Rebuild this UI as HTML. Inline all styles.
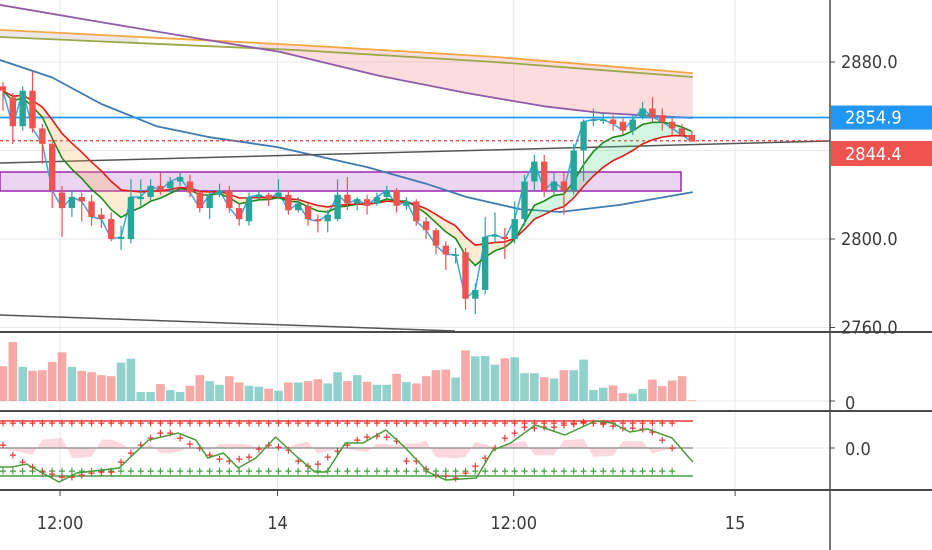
<!DOCTYPE html>
<html><head><meta charset="utf-8"><style>
html,body{margin:0;padding:0;background:#fff;}
svg{display:block;font-family:"DejaVu Sans Condensed","Liberation Sans",sans-serif;}
</style></head><body>
<svg id="chart" width="932" height="550" viewBox="0 0 932 550" xmlns="http://www.w3.org/2000/svg"></svg>
<script>
const opens=[2869,2864,2851,2867,2850,2843,2821,2814,2819,2817,2811,2809,2800,2800,2818,2819,2824,2823,2826,2826,2821,2814,2820,2822,2814,2808,2819,2820,2819,2820,2813,2815,2809,2808,2809,2820,2816,2818,2816,2819,2822,2815,2817,2808,2804,2797,2793,2794,2773,2777,2801,2801,2800,2809,2826,2835,2822,2826,2822,2840,2854,2854,2854,2853,2849,2855,2859,2856,2853,2850,2847];
const closes=[2867,2851,2867,2850,2843,2822,2814,2819,2817,2810,2809,2800,2801,2819,2819,2824,2822,2826,2828,2821,2814,2820,2822,2814,2809,2819,2820,2818,2821,2813,2816,2809,2808,2811,2820,2816,2818,2815,2819,2822,2815,2817,2808,2804,2797,2793,2793,2773,2777,2801,2802,2800,2809,2826,2835,2822,2826,2822,2840,2853,2854,2854,2852,2849,2854,2859,2855,2853,2850,2847,2844];
const highs=[2871,2866,2869,2876,2852,2845,2824,2822,2821,2820,2814,2812,2806,2827,2827,2827,2830,2828,2830,2829,2822,2822,2825,2824,2816,2821,2822,2821,2827,2822,2819,2816,2811,2813,2827,2828,2819,2820,2821,2824,2823,2819,2818,2810,2805,2799,2796,2796,2780,2810,2812,2805,2817,2829,2838,2838,2830,2830,2843,2854,2859,2857,2856,2855,2856,2862,2864,2859,2855,2852,2849];
const lows=[2858,2843,2849,2848,2834,2814,2801,2810,2808,2806,2805,2799,2795,2798,2815,2817,2820,2821,2824,2819,2812,2809,2819,2812,2806,2806,2818,2815,2818,2811,2812,2806,2803,2803,2808,2813,2813,2811,2815,2818,2812,2813,2806,2800,2793,2786,2789,2768,2766,2775,2798,2791,2798,2806,2822,2819,2820,2811,2820,2826,2851,2852,2849,2847,2847,2854,2853,2849,2847,2846,2844];
const volumes=[105,178,103,91,93,118,147,103,91,87,78,75,116,128,27,27,51,33,27,46,78,60,49,75,56,46,43,37,31,56,56,60,66,53,87,60,78,58,49,49,82,57,53,75,93,95,71,153,135,136,110,129,132,84,84,72,68,93,93,125,33,40,47,24,22,36,65,45,62,75,2];
const oscIdx=[-0.3,0.9,2.4,4.0,5.7,7.5,11.8,14.8,17.8,19.6,20.8,22.4,23.9,25.7,27.7,29.9,31.7,32.9,34.8,36.6,38.9,40.8,43.2,45.0,48.1,49.8,51.6,54.1,57.1,60.2,61.9,63.7,65.5,68.0,70.1];
const oscVals=[-0.76,-0.76,-0.64,-1.0,-1.36,-1.0,-0.8,0.32,0.6,0.32,-0.4,-0.2,-0.8,-0.4,0.44,-0.36,-0.96,-0.96,0.2,0.2,0.72,0.04,-0.96,-1.28,-1.2,-0.08,0.2,0.92,0.52,1.08,1.0,0.64,0.76,0.4,-0.56];
const signalVals=[0.12,-0.28,-0.56,-0.76,-0.96,-1.04,-1.16,-1.16,-1.08,-1.0,-0.96,-0.96,-0.56,-0.2,0.12,0.4,0.6,0.6,0.4,0.16,0.0,-0.28,-0.44,-0.52,-0.44,-0.36,-0.04,0.12,0.04,-0.08,-0.52,-0.72,-0.64,-0.36,-0.12,0.12,0.32,0.44,0.48,0.44,0.28,-0.52,-0.52,-0.84,-1.08,-1.12,-1.2,-1.0,-0.72,-0.4,0.0,0.4,0.6,0.84,0.8,0.84,0.84,0.92,0.96,1.04,1.0,0.96,0.88,0.8,0.8,0.76,0.64,0.32,0.0];
const purpleIdx=[-0.3,10,20,28.2,38,47.1,55,60.7,70.1];
const purpleVals=[2905.8,2898,2890.5,2884.5,2874,2866,2860,2857,2854.7];
const orangeIdx=[-0.3,30,50,70.1];
const orangeVals=[2894.5,2887.7,2882.3,2875];
const oliveIdx=[-0.3,30,50,70.1];
const oliveVals=[2891.3,2885.4,2880,2873.2];
const slowIdx=[-0.3,5,10,15.6,21,27.8,37,43,47.1,52.5,56.6,62.7,70.1];
const slowVals=[2880.9,2873,2861,2851,2846,2841.6,2832.5,2825,2819,2813.5,2812.2,2815.4,2821.2];
const priceTicks=[2880,2840,2800,2760];
const priceTickLabels=["2880.0","","2800.0","2760.0"];
const timeIdx=[5.8,27.9,51.9,74.4];
const timeLabels=["12:00","14","12:00","15"];
const lastPrice=2844.4, levelPrice=2854.9;

const NS="http://www.w3.org/2000/svg";
const svg=document.getElementById('chart');
const xI=i=>3+i*9.84;
const yP=p=>62+(2880-p)*2.2125;
const yV=v=>401-v*0.331;
const yO=v=>448-v*25;
function mk(tag,attrs,parent){const e=document.createElementNS(NS,tag);for(const k in attrs)e.setAttribute(k,attrs[k]);(parent||svg).appendChild(e);return e;}
function interp(xs,vs,x){if(x<=xs[0])return vs[0];for(let k=1;k<xs.length;k++){if(x<=xs[k]){const t=(x-xs[k-1])/(xs[k]-xs[k-1]);return vs[k-1]+t*(vs[k]-vs[k-1]);}}return vs[vs.length-1];}
function ema(arr,n){const a=2/(n+1);const out=[];let e=arr[0];arr.forEach((v,i)=>{e=i?a*v+(1-a)*e:v;out.push(e);});return out;}

const defs=mk('defs',{});
const cp=mk('clipPath',{id:'pc'},defs);mk('rect',{x:0,y:0,width:830,height:331},cp);
const cv=mk('clipPath',{id:'vc'},defs);mk('rect',{x:0,y:333,width:830,height:78},cv);
const co=mk('clipPath',{id:'oc'},defs);mk('rect',{x:0,y:412,width:830,height:77},co);

const grid=mk('g',{});

priceTicks.forEach(p=>mk('line',{x1:0,x2:830,y1:yP(p),y2:yP(p),stroke:'#e6e9ee','stroke-width':1},grid));
timeIdx.forEach(i=>mk('line',{x1:xI(i),x2:xI(i),y1:0,y2:490,stroke:'#e6e9ee','stroke-width':1},grid));
mk('line',{x1:0,x2:830,y1:401,y2:401,stroke:'#e6e9ee'},grid);
mk('line',{x1:0,x2:830,y1:448,y2:448,stroke:'#e6e9ee'},grid);

const pg=mk('g',{'clip-path':'url(#pc)'});


function linePath(xs,vs,yf){return xs.map((x,k)=>(k?'L':'M')+xI(x).toFixed(1)+','+yf(vs[k]).toFixed(1)).join(' ');}

{const xs=[];for(let x=26;x<=70.1;x+=0.5)xs.push(x);xs.push(70.1);
let d='M'+xs.map(x=>xI(x).toFixed(1)+','+yP(interp(orangeIdx,orangeVals,x)).toFixed(1)).join(' L');
d+=' L'+xs.slice().reverse().map(x=>xI(x).toFixed(1)+','+yP(interp(purpleIdx,purpleVals,x)).toFixed(1)).join(' L')+'Z';
const f=mk('path',{d:d,fill:'rgba(244,143,143,0.3)'},pg);

const xs2=[];for(let x=-0.3;x<=14;x+=0.5)xs2.push(x);
let d2='M'+xs2.map(x=>xI(x).toFixed(1)+','+yP(interp(orangeIdx,orangeVals,x)).toFixed(1)).join(' L');
d2+=' L'+xs2.slice().reverse().map(x=>xI(x).toFixed(1)+','+yP(interp(oliveIdx,oliveVals,x)).toFixed(1)).join(' L')+'Z';
const f2=mk('path',{d:d2,fill:'rgba(180,160,160,0.25)'},pg);
}

const zone=mk('rect',{x:0,y:172,width:681,height:19,fill:'rgba(186,104,200,0.28)',stroke:'#9c27b0','stroke-width':1.5},pg);


[[orangeIdx,orangeVals,'#f5a742','orange-ma'],[oliveIdx,oliveVals,'#9aa84a','olive-ma'],[purpleIdx,purpleVals,'#8e5ba8','purple-ma'],[slowIdx,slowVals,'#3f7bb0','slow-ma']].forEach(s=>{
 const e=mk('path',{d:linePath(s[0],s[1],yP),fill:'none',stroke:s[2],'stroke-width':1.8,'stroke-linejoin':'round'},pg);
 });

const t1=mk('line',{x1:0,y1:163,x2:830,y2:141,stroke:'#555','stroke-width':1.5},pg);

const t2=mk('line',{x1:0,y1:315,x2:455,y2:331,stroke:'#555','stroke-width':1.5},pg);


const lv=mk('line',{x1:0,x2:830,y1:yP(levelPrice),y2:yP(levelPrice),stroke:'#2196f3','stroke-width':1.8},pg);

const lp=mk('line',{x1:0,x2:830,y1:yP(lastPrice),y2:yP(lastPrice),stroke:'#e53935','stroke-width':1.2,'stroke-dasharray':'3,3'},pg);


const fast=ema(closes,6), slow=ema(closes,12);
for(let i=1;i<closes.length;i++){
 const up=fast[i]>=slow[i];
 const d=`M${xI(i-1)},${yP(fast[i-1])} L${xI(i)},${yP(fast[i])} L${xI(i)},${yP(slow[i])} L${xI(i-1)},${yP(slow[i-1])}Z`;
 const s=mk('path',{d:d,fill:up?'rgba(76,220,130,0.25)':'rgba(255,170,80,0.25)'},pg);
 
}
const ci=closes.map((c,i)=>i);
const bl=mk('path',{d:linePath(ci,closes,yP),fill:'none',stroke:'#3ea6e0','stroke-width':1.5},pg);

const gl=mk('path',{d:linePath(ci,fast,yP),fill:'none',stroke:'#1b8a1b','stroke-width':1.6},pg);

const rl=mk('path',{d:linePath(ci,slow,yP),fill:'none',stroke:'#e01b1b','stroke-width':1.6},pg);


opens.forEach((o,i)=>{
 const c=closes[i],up=c>=o,col=up?'#26a69a':'#ef5350',x=xI(i);
 const g=mk('g',{},pg);
 
 mk('line',{x1:x,x2:x,y1:yP(highs[i]),y2:yP(lows[i]),stroke:col,'stroke-width':1.2},g);
 const top=yP(Math.max(o,c)),h=Math.max(1.5,Math.abs(yP(o)-yP(c)));
 mk('rect',{x:x-3.2,y:top,width:6.4,height:h,fill:col},g);
});

const vg=mk('g',{'clip-path':'url(#vc)'});

volumes.forEach((v,i)=>{
 const up=closes[i]>=opens[i];
 const r=mk('rect',{x:xI(i)-4.3,y:yV(v),width:8.6,height:401-yV(v),fill:up?'rgba(38,166,154,0.5)':'rgba(239,83,80,0.5)'},vg);
 
});

const og=mk('g',{'clip-path':'url(#oc)'});

{let d='M'+xI(0)+','+yO(0);signalVals.forEach((v,i)=>{d+=' L'+xI(i)+','+yO(v*0.35*Math.sign(Math.sin(i))||0);});
 d+=' L'+xI(signalVals.length-1)+','+yO(0)+'Z';
 const pb=mk('path',{d:d,fill:'rgba(244,143,160,0.35)'},og);
 }
const ul=mk('line',{x1:0,x2:693,y1:421,y2:421,stroke:'#e53935','stroke-width':1.5},og);

const ll=mk('line',{x1:0,x2:693,y1:476,y2:476,stroke:'#43a047','stroke-width':1.5},og);

const ml=mk('line',{x1:0,x2:693,y1:448,y2:448,stroke:'#999','stroke-width':1.5},og);

function plus(x,y,col,name){const t=mk('text',{x:x,y:y+3.5,fill:col,'font-size':11,'text-anchor':'middle','font-weight':'bold'},og);t.textContent='+';}
signalVals.forEach((v,i)=>{plus(xI(i),423,'#e53935','upper-marker');plus(xI(i),471,'#43a047','lower-marker');plus(xI(i),yO(v),'#e53935','signal-marker');});
const ol=mk('path',{d:linePath(oscIdx,oscVals,yO),fill:'none',stroke:'#4a9a3a','stroke-width':1.5},og);


[332,411,490].forEach(y=>{const s=mk('line',{x1:0,x2:932,y1:y,y2:y,stroke:'#4a4a4a','stroke-width':2});});
const ax=mk('line',{x1:830,x2:830,y1:0,y2:550,stroke:'#4a4a4a','stroke-width':1.5});

function label(x,y,txt,name,anchor,col){const t=mk('text',{x:x,y:y,fill:col||'#3b3b3b','font-size':18,'text-anchor':anchor||'start'});t.textContent=txt;return t;}
priceTicks.forEach((p,k)=>{if(!priceTickLabels[k])return;const y=yP(p);mk('line',{x1:830,x2:835,y1:y,y2:y,stroke:'#4a4a4a'});label(841,y+6,priceTickLabels[k],'price-tick-label');});
mk('line',{x1:830,x2:835,y1:401,y2:401,stroke:'#4a4a4a'});label(845,409,'0','volume-tick-label');
mk('line',{x1:830,x2:835,y1:448,y2:448,stroke:'#4a4a4a'});label(845,455,'0.0','osc-tick-label');
timeIdx.forEach((i,k)=>{mk('line',{x1:xI(i),x2:xI(i),y1:490,y2:496,stroke:'#4a4a4a'});label(xI(i),529,timeLabels[k],'time-tick-label','middle');});
const b1=mk('rect',{x:831,y:yP(levelPrice)-12,width:101,height:24,fill:'#2196f3'});

label(845,yP(levelPrice)+6,levelPrice.toFixed(1),'level-price-text','start','#fff');
const b2=mk('rect',{x:831,y:141,width:101,height:25,fill:'#ef5350'});

label(845,160,lastPrice.toFixed(1),'last-price-text','start','#fff');
</script>
</body></html>
